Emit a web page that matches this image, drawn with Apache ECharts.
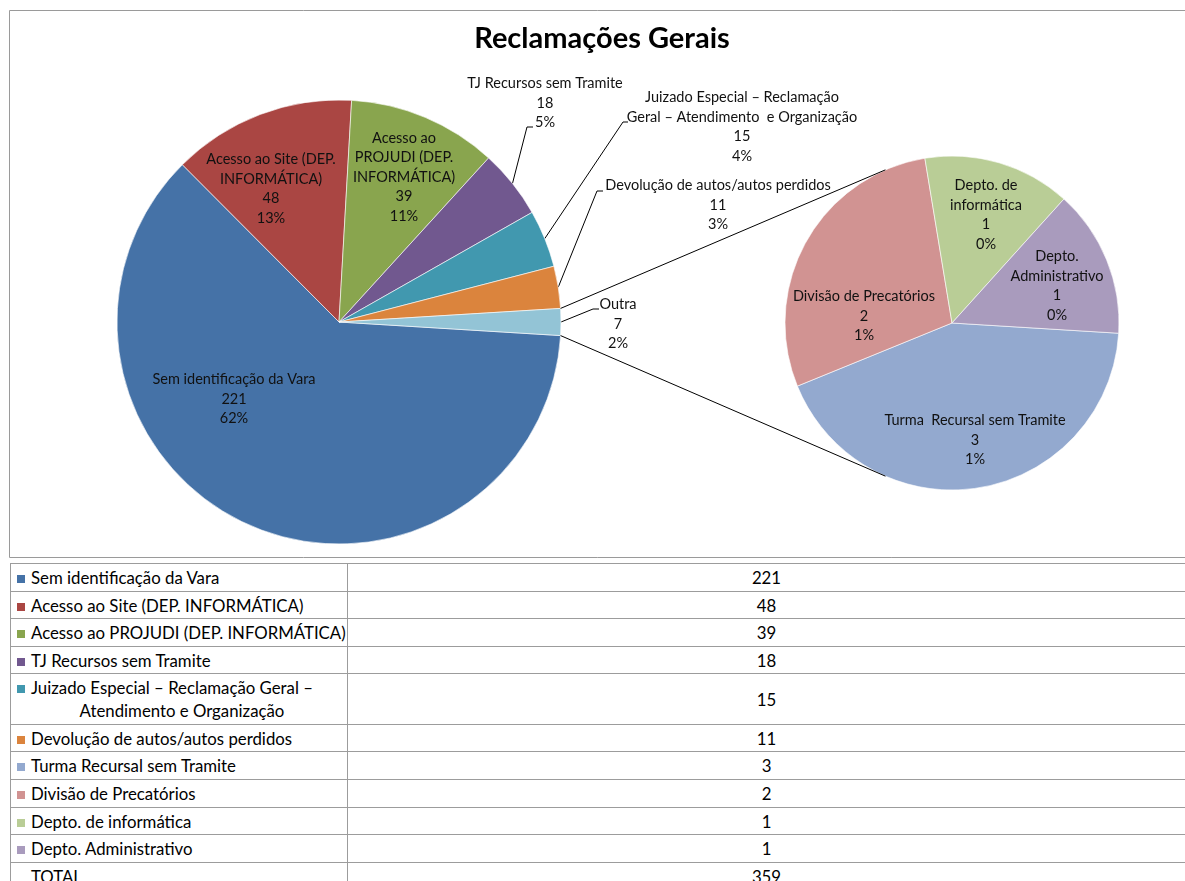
<!DOCTYPE html>
<html>
<head>
<meta charset="utf-8">
<script src="https://cdn.jsdelivr.net/npm/echarts@6/dist/echarts.min.js"></script>
<style>
  html, body { margin: 0; padding: 0; background: #fff; overflow: hidden; }
  #main { position: absolute; left: 0; top: 0; width: 1185px; height: 560px; }
  #tabela { position: absolute; left: 10px; top: 563px; width: 1175px; height: 330px;
            font-family: Lato, sans-serif; font-size: 16.8px; color: #000; }
  .linha { position: absolute; left: 0; width: 1175px; box-sizing: border-box; display: flex;
           border-top: 1px solid #9c9c9c; border-left: 1px solid #9c9c9c; }
  .nome { width: 337px; box-sizing: border-box; border-right: 1px solid #9c9c9c;
          display: flex; align-items: center; padding-left: 6px; padding-right: 0; }
  .nome div { line-height: 23px; white-space: normal; }
  .valor { flex: 1; display: flex; align-items: center; justify-content: center; }
  .quad { display: inline-block; width: 8px; height: 8px; margin-right: 6px; position: relative; top: -1px; }
</style>
</head>
<body>
<div id="main"></div>
<div id="tabela"></div>
<script>
// dados
const categorias = [
  'Sem identificação da Vara',
  'Acesso ao Site (DEP. INFORMÁTICA)',
  'Acesso ao PROJUDI (DEP. INFORMÁTICA)',
  'TJ Recursos sem Tramite',
  'Juizado Especial – Reclamação Geral – Atendimento e Organização',
  'Devolução de autos/autos perdidos',
  'Outra'
]
const valores = [221, 48, 39, 18, 15, 11, 7]
const categoriasOutra = [
  'Turma Recursal sem Tramite',
  'Divisão de Precatórios',
  'Depto. de informática',
  'Depto. Administrativo'
]
const valoresOutra = [3, 2, 1, 1]

// textos dos rótulos como quebrados no gráfico
const rotulos = [
  'Sem identificação da Vara',
  'Acesso ao Site (DEP.\nINFORMÁTICA)',
  'Acesso ao\nPROJUDI (DEP.\nINFORMÁTICA)',
  'TJ Recursos sem Tramite',
  'Juizado Especial – Reclamação\nGeral – Atendimento  e Organização',
  'Devolução de autos/autos perdidos',
  'Outra'
]
const rotulosOutra = [
  'Turma  Recursal sem Tramite',
  'Divisão de Precatórios',
  'Depto. de\ninformática',
  'Depto.\nAdministrativo'
]

const cores = ['#4572A7', '#AA4643', '#89A54E', '#71588F', '#4198AF', '#DB843D', '#93C4D6']
const coresOutra = ['#93A9CF', '#D19392', '#B9CD96', '#A99BBD']

const total = valores.reduce((a, b) => a + b, 0)

// layout
const centro = [339, 322], raio = 222
const centroOutra = [952, 323], raioOutra = 167
const inicio = -(valores[6] / total * 180)

// posição (centro) de cada rótulo
const posRotulos = [[234, 399], [271, 189], [404, 177], [545, 103], [742, 127], [718, 205], [618, 324]]
const posRotulosOutra = [[975, 440], [864, 316], [986, 215], [1057, 286]]
// quebra e fim das linhas guia
const guias = [null, null, null, [[527, 127], [533, 127]], [[623, 122], [628, 122]],
               [[597, 191], [603, 191]], [[593, 309], [599, 309]]]

function formatar (p) {
  const txt = p.seriesIndex === 0 ? rotulos[p.dataIndex] : rotulosOutra[p.dataIndex]
  return txt + '\n' + p.value + '\n' + Math.round(p.value / total * 100) + '%'
}

const estiloRotulo = {
  fontFamily: 'Lato',
  fontSize: 14.5,
  lineHeight: 19.5,
  color: '#111',
  align: 'center',
  formatter: formatar
}

// linhas de ligação entre as pizzas
const rad = Math.PI / 180
const meio = valores[6] / total * 180
const angLiga = 113.5
const ligacoes = [1, -1].map(function (s) {
  return {
    type: 'line',
    silent: true,
    shape: {
      x1: centro[0] + raio * Math.cos(meio * rad),
      y1: centro[1] - s * raio * Math.sin(meio * rad),
      x2: centroOutra[0] + raioOutra * Math.cos(angLiga * rad),
      y2: centroOutra[1] - s * raioOutra * Math.sin(angLiga * rad)
    },
    style: { stroke: '#000', lineWidth: 1 },
    z: 10
  }
})

const chart = echarts.init(document.getElementById('main'))
chart.setOption({
  animation: false,
  backgroundColor: '#fff',
  title: {
    text: 'Reclamações Gerais',
    left: 602,
    top: 24,
    padding: 0,
    textAlign: 'center',
    textStyle: { fontFamily: 'Lato', fontWeight: 'bold', fontSize: 29, color: '#000' }
  },
  graphic: [
    {
      type: 'rect',
      silent: true,
      shape: { x: 9.5, y: 10.5, width: 1200, height: 547 },
      style: { fill: null, stroke: '#9a9a9a', lineWidth: 1 },
      z: -1
    }
  ].concat(ligacoes),
  series: [
    {
      type: 'pie',
      center: centro,
      radius: raio,
      startAngle: inicio,
      clockwise: true,
      avoidLabelOverlap: false,
      emphasis: { disabled: true },
      itemStyle: { borderColor: '#fff', borderWidth: 0.6 },
      label: estiloRotulo,
      labelLine: { show: true, length: 10, length2: 5, smooth: false,
                   lineStyle: { color: '#000', width: 1 } },
      labelLayout: function (p) {
        const pos = posRotulos[p.dataIndex]
        const res = { x: pos[0], y: pos[1], align: 'center', verticalAlign: 'middle' }
        const g = guias[p.dataIndex]
        if (g && p.labelLinePoints) {
          res.labelLinePoints = [p.labelLinePoints[0], g[0], g[1]]
        }
        return res
      },
      data: categorias.map(function (nome, i) {
        const dentro = i < 3
        return {
          name: nome,
          value: valores[i],
          itemStyle: { color: cores[i] },
          label: { position: dentro ? 'inside' : 'outside' },
          labelLine: { show: !dentro }
        }
      })
    },
    {
      type: 'pie',
      center: centroOutra,
      radius: raioOutra,
      startAngle: inicio,
      clockwise: true,
      avoidLabelOverlap: false,
      emphasis: { disabled: true },
      itemStyle: { borderColor: '#fff', borderWidth: 0.6 },
      label: Object.assign({ position: 'inside' }, estiloRotulo),
      labelLine: { show: false },
      labelLayout: function (p) {
        const pos = posRotulosOutra[p.dataIndex]
        return { x: pos[0], y: pos[1], align: 'center', verticalAlign: 'middle' }
      },
      data: categoriasOutra.map(function (nome, i) {
        return { name: nome, value: valoresOutra[i], itemStyle: { color: coresOutra[i] } }
      })
    }
  ]
})

// tabela de dados (legenda)
const nomesTabela = categorias.slice(0, 6).concat(categoriasOutra)
const valoresTabela = valores.slice(0, 6).concat(valoresOutra)
const coresTabela = cores.slice(0, 6).concat(coresOutra)
const alturas = [28, 27, 28, 27, 51, 27, 28, 28, 27, 28, 28]

const tabela = document.getElementById('tabela')
let y = 0
nomesTabela.concat(['TOTAL']).forEach(function (nome, i) {
  const linha = document.createElement('div')
  linha.className = 'linha'
  linha.style.top = y + 'px'
  linha.style.height = alturas[i] + 'px'
  const cNome = document.createElement('div')
  cNome.className = 'nome'
  const txt = document.createElement('div')
  if (i < nomesTabela.length) {
    const q = document.createElement('span')
    q.className = 'quad'
    q.style.background = coresTabela[i]
    txt.appendChild(q)
  } else {
    txt.style.paddingLeft = '14px'
  }
  txt.appendChild(document.createTextNode(nome))
  cNome.appendChild(txt)
  const cValor = document.createElement('div')
  cValor.className = 'valor'
  cValor.textContent = i < nomesTabela.length ? valoresTabela[i] : total
  linha.appendChild(cNome)
  linha.appendChild(cValor)
  tabela.appendChild(linha)
  if (txt.offsetHeight > 30) txt.style.textAlignLast = 'center'
  y += alturas[i]
})

window.addEventListener('resize', function () {
  chart.resize()
})
</script>
</body>
</html>
